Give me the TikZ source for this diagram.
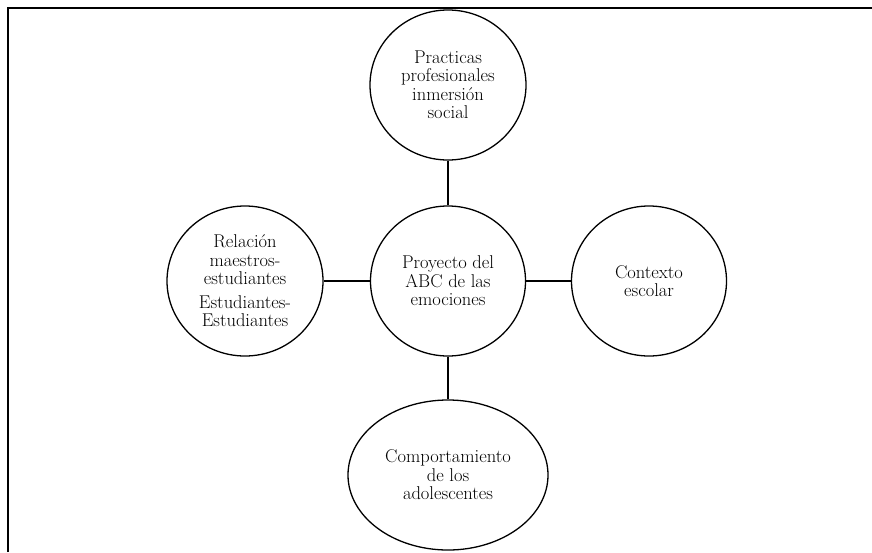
\documentclass[tikz,border=0pt]{standalone}
\usepackage{fontspec}
\usetikzlibrary{shapes.geometric}
\begin{document}
\begin{tikzpicture}[x=1pt,y=-1pt,
  bubble/.style={draw, ellipse, line width=1.3pt, inner sep=0pt, align=center,
    font=\fontsize{18.5}{18.5}\selectfont},
  link/.style={line width=1.3pt},
  frame/.style={line width=2pt}]
\useasboundingbox (0,0) rectangle (872,552);
\coordinate (fbl) at (8,552);
\coordinate (ftl) at (8,8);
\coordinate (ftr) at (872,8);
\draw[frame] (fbl) -- (ftl) -- (ftr);
\node[bubble, minimum width=156, minimum height=150] (top) at (448,85)
  {Practicas\\profesionales\\inmersión\\social};
\node[bubble, minimum width=155, minimum height=150] (mid) at (448,281)
  {Proyecto del\\ABC de las\\emociones};
\node[bubble, minimum width=156, minimum height=150] (left) at (245,281)
  {Relación\\maestros-\\estudiantes\\[5pt]Estudiantes-\\Estudiantes};
\node[bubble, minimum width=155, minimum height=150] (right) at (649,281)
  {Contexto\\escolar};
\node[bubble, minimum width=200, minimum height=150] (bot) at (448,475)
  {Comportamiento\\de los\\adolescentes};
\draw[link] (top.south) -- (mid.north);
\draw[link] (left.east) -- (mid.west);
\draw[link] (mid.east) -- (right.west);
\draw[link] (mid.south) -- (bot.north);
\end{tikzpicture}
\end{document}
